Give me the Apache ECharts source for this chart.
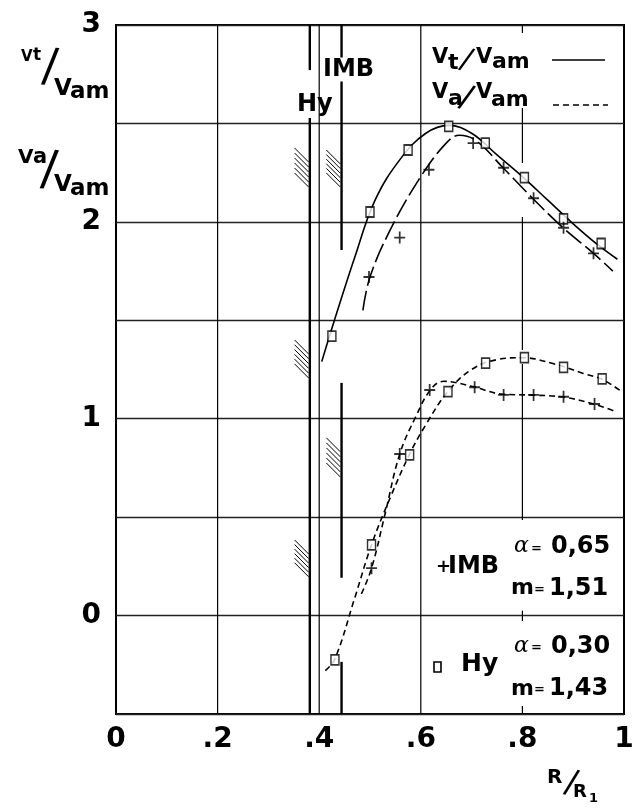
<!DOCTYPE html>
<html><head><meta charset="utf-8">
<script src="https://cdn.jsdelivr.net/npm/echarts@6/dist/echarts.min.js"></script>
<style>html,body{margin:0;padding:0;background:#fff}#c{width:637px;height:808px}</style>
</head><body><div id="c"></div>
<script>
// ---- axis ticks ----
const xTicks = [0, 0.2, 0.4, 0.6, 0.8, 1];
const xTickLabels = ['0', '.2', '.4', '.6', '.8', '1'];
const yTicks = [0, 1, 2, 3];
const yTickLabels = ['0', '1', '2', '3'];

// ---- measured points ----
const vtHyX = [0.425, 0.50, 0.575, 0.655, 0.727, 0.804, 0.881, 0.955];
const vtHyY = [1.42, 2.05, 2.365, 2.485, 2.40, 2.225, 2.015, 1.89];
const vtImbX = [0.498, 0.5585, 0.616, 0.703, 0.763, 0.822, 0.881, 0.94];
const vtImbY = [1.72, 1.92, 2.265, 2.40, 2.275, 2.12, 1.97, 1.84];
const vaHyX = [0.431, 0.503, 0.578, 0.6535, 0.7276, 0.804, 0.881, 0.957];
const vaHyY = [-0.225, 0.359, 0.816, 1.138, 1.282, 1.31, 1.261, 1.202];
const vaImbX = [0.503, 0.5585, 0.6175, 0.706, 0.763, 0.822, 0.881, 0.942];
const vaImbY = [0.241, 0.821, 1.146, 1.16, 1.121, 1.121, 1.112, 1.075];

// ---- faired curves ----
const vtHyCurveX = [0.405, 0.43, 0.47, 0.51, 0.56, 0.61, 0.655, 0.70, 0.75, 0.80, 0.85, 0.90, 0.95, 0.987];
const vtHyCurveY = [1.29, 1.50, 1.82, 2.11, 2.32, 2.45, 2.49, 2.45, 2.34, 2.23, 2.11, 1.99, 1.88, 1.81];
const vtImbCurveX = [0.486, 0.50, 0.54, 0.60, 0.65, 0.676, 0.71, 0.76, 0.82, 0.88, 0.94, 0.978];
const vtImbCurveY = [1.55, 1.72, 1.96, 2.23, 2.40, 2.44, 2.41, 2.28, 2.12, 1.97, 1.84, 1.75];
const vaHyCurveX = [0.412, 0.431, 0.47, 0.503, 0.54, 0.578, 0.61, 0.654, 0.70, 0.75, 0.80, 0.86, 0.92, 0.957, 0.994];
const vaHyCurveY = [-0.28, -0.22, 0.09, 0.36, 0.60, 0.82, 0.97, 1.14, 1.25, 1.30, 1.31, 1.28, 1.23, 1.20, 1.14];
const vaImbCurveX = [0.483, 0.503, 0.53, 0.5585, 0.59, 0.62, 0.645, 0.70, 0.76, 0.82, 0.88, 0.94, 0.985];
const vaImbCurveY = [0.11, 0.24, 0.52, 0.82, 1.01, 1.15, 1.19, 1.165, 1.125, 1.12, 1.11, 1.075, 1.035];

// ---- boundary lines [x, yFrom, yTo] ----
const hyBoundary = [[0.3815, 2.771, 3], [0.3815, -0.5, 2.528]];
const imbBoundary = [[0.444, 1.857, 3], [0.444, 0.192, 1.182], [0.444, -0.5, -0.235]];
const hatches = [[0.3815, 2.375, 2.177], [0.3815, 1.40, 1.207], [0.3815, 0.384, 0.197], [0.444, 2.365, 2.177], [0.444, 0.903, 0.704]];
// vertical grid lines (0.8 line is interrupted in the original)
const vGrid = [[0.2, -0.5, 3], [0.4, -0.5, 3], [0.6, -0.5, 3],
  [0.8, 2.959, 3], [0.8, 2.299, 2.578], [0.8, 1.349, 2.025], [0.8, 0.486, 1.278], [0.8, -0.027, 0.024], [0.8, -0.5, -0.459]];

const FONT = 'DejaVu Sans';
const zip = (xs, ys) => xs.map((x, i) => [x, ys[i]]);

function segSeries(data, lw, z) {
  return {
    type: 'custom', data, z, clip: false, silent: true,
    encode: { x: 0, y: [1, 2] },
    renderItem: (params, api) => {
      const x = api.value(0);
      const a = api.coord([x, api.value(1)]), b = api.coord([x, api.value(2)]);
      return { type: 'line', shape: { x1: a[0], y1: a[1], x2: b[0], y2: b[1] }, style: { stroke: '#000', lineWidth: lw } };
    }
  };
}
const hatchSeries = {
  type: 'custom', data: hatches, z: 2, clip: false, silent: true,
  encode: { x: 0, y: [1, 2] },
  renderItem: (params, api) => {
    const x = api.value(0);
    const t = api.coord([x, api.value(1)]), b = api.coord([x, api.value(2)]);
    const w = 14, n = 6, px = t[0] - 1.2;
    const h = b[1] - t[1];
    const step = (h - w) / (n - 1);
    const children = [];
    for (let k = 0; k < n; k++) {
      const y0 = t[1] + k * step;
      children.push({ type: 'line', shape: { x1: px - w, y1: y0, x2: px, y2: y0 + w }, style: { stroke: '#000', lineWidth: 1 } });
    }
    return { type: 'group', children };
  }
};

function curve(xs, ys, dash, lw) {
  return { type: 'line', data: zip(xs, ys), symbol: 'none', smooth: 0.4, z: 3, silent: true,
    lineStyle: { color: '#000', width: lw, type: dash } };
}
const squareStyle = { symbol: 'rect', symbolSize: [8, 10], itemStyle: { color: '#fff', borderColor: '#000', borderWidth: 1.6 } };
const PLUS = 'path://M4.2,0H5.8V4.2H10V5.8H5.8V10H4.2V5.8H0V4.2H4.2Z';
const plusStyle = { symbol: PLUS, symbolSize: [11, 12], itemStyle: { color: '#000' } };

function T(text, x, base, size, o = {}) {
  const st = { text, fontSize: size, fontWeight: o.w || 'bold', fontFamily: o.f || FONT, fontStyle: o.s || 'normal',
    fill: '#000', align: 'left', verticalAlign: 'middle', textAlign: 'left', textVerticalAlign: 'middle' };
  if (o.bg) { st.backgroundColor = '#fff'; st.padding = [0, 1]; }
  return { type: 'text', x, y: base - 0.35 * size, z: 100, style: st };
}
function SL(cx, cy, size, rot) {
  return { type: 'text', x: cx, y: cy, rotation: rot, z: 100,
    style: { text: '/', fontSize: size, fontWeight: 'normal', fontFamily: FONT, fill: '#000',
      align: 'center', verticalAlign: 'middle', textAlign: 'center', textVerticalAlign: 'middle' } };
}

const graphics = [
  // y-axis name
  T('V', 21, 62, 15), T('t', 33, 62, 17), SL(50, 69, 46, -0.08), T('V', 54, 97, 23), T('am', 70, 100, 23),
  T('V', 18, 165, 20), T('a', 33, 165, 21), SL(49, 172, 48, -0.08), T('V', 54, 193, 23), T('am', 70, 197, 23),
  // x-axis name
  T('R', 547, 785, 20), SL(571, 784, 33, -0.25), T('R', 573, 799, 18), T('1', 589, 803, 13),
  // boundary labels
  T('Hy', 297, 113, 24), T('IMB', 322, 78, 24, { bg: true }),
  // legend
  T('V', 432, 65, 21), T('t', 448, 71, 22), SL(466, 61, 30, -0.33), T('V', 476, 65, 21), T('am', 492, 70, 22),
  { type: 'line', z: 100, shape: { x1: 552, y1: 60, x2: 605, y2: 60 }, style: { stroke: '#000', lineWidth: 1.6 } },
  T('V', 432, 100, 21), T('a', 448, 107, 22), SL(466, 99, 32, -0.33), T('V', 476, 100, 21), T('am', 491, 108, 22),
  { type: 'line', z: 100, shape: { x1: 553, y1: 105, x2: 608, y2: 105 }, style: { stroke: '#000', lineWidth: 1.6, lineDash: [6, 4] } },
  // parameter boxes
  T('+', 436, 574, 18), T('IMB', 448, 575, 24),
  T('α', 514, 554, 22, { w: 'normal', s: 'italic', f: 'DejaVu Serif' }), T('=', 531, 553, 13), T('0,65', 551, 555, 24),
  T('m', 511, 596, 22), T('=', 534, 594, 13), T('1,51', 549, 597, 24),
  { type: 'rect', z: 100, shape: { x: 434, y: 662, width: 7, height: 10 }, style: { fill: '#fff', stroke: '#000', lineWidth: 1.6 } },
  T('Hy', 461, 673, 25),
  T('α', 514, 654, 22, { w: 'normal', s: 'italic', f: 'DejaVu Serif' }), T('=', 531, 652, 13), T('0,30', 551, 655, 24),
  T('m', 511, 697, 22), T('=', 534, 694, 13), T('1,43', 549, 697, 24)
];

const labelFmt = (ticks, labels) => v => { const i = ticks.findIndex(t => Math.abs(t - v) < 1e-6); return i >= 0 ? labels[i] : ''; };

const option = {
  animation: false,
  backgroundColor: '#fff',
  grid: { left: 116, right: 13, top: 25, bottom: 94, show: true, borderColor: '#000', borderWidth: 2 },
  xAxis: { type: 'value', min: 0, max: 1, interval: 0.2,
    axisLine: { show: false }, axisTick: { show: false }, splitLine: { show: false },
    axisLabel: { formatter: labelFmt(xTicks, xTickLabels), color: '#000', fontSize: 28, fontWeight: 'bold', fontFamily: FONT, margin: 12 } },
  yAxis: { type: 'value', min: -0.5, max: 3, interval: 0.5,
    axisLine: { show: false }, axisTick: { show: false },
    splitLine: { show: true, lineStyle: { color: '#222', width: 1.3 } },
    axisLabel: { formatter: labelFmt(yTicks, yTickLabels), color: '#000', fontSize: 28, fontWeight: 'bold', fontFamily: FONT, margin: 15 } },
  series: [
    segSeries(vGrid, 1.2, 1),
    segSeries(hyBoundary, 2.4, 2),
    segSeries(imbBoundary, 2.4, 2),
    hatchSeries,
    curve(vtHyCurveX, vtHyCurveY, 'solid', 1.6),
    curve(vtImbCurveX, vtImbCurveY, [20, 5], 1.6),
    curve(vaHyCurveX, vaHyCurveY, [6, 4], 1.6),
    curve(vaImbCurveX, vaImbCurveY, [6, 4], 1.6),
    Object.assign({ type: 'scatter', data: zip(vtHyX, vtHyY), z: 5, silent: true }, squareStyle),
    Object.assign({ type: 'scatter', data: zip(vaHyX, vaHyY), z: 5, silent: true }, squareStyle),
    Object.assign({ type: 'scatter', data: zip(vtImbX, vtImbY), z: 5, silent: true }, plusStyle),
    Object.assign({ type: 'scatter', data: zip(vaImbX, vaImbY), z: 5, silent: true }, plusStyle)
  ],
  graphic: graphics
};
const chart = echarts.init(document.getElementById('c'));
chart.setOption(option);
</script>
</body></html>
